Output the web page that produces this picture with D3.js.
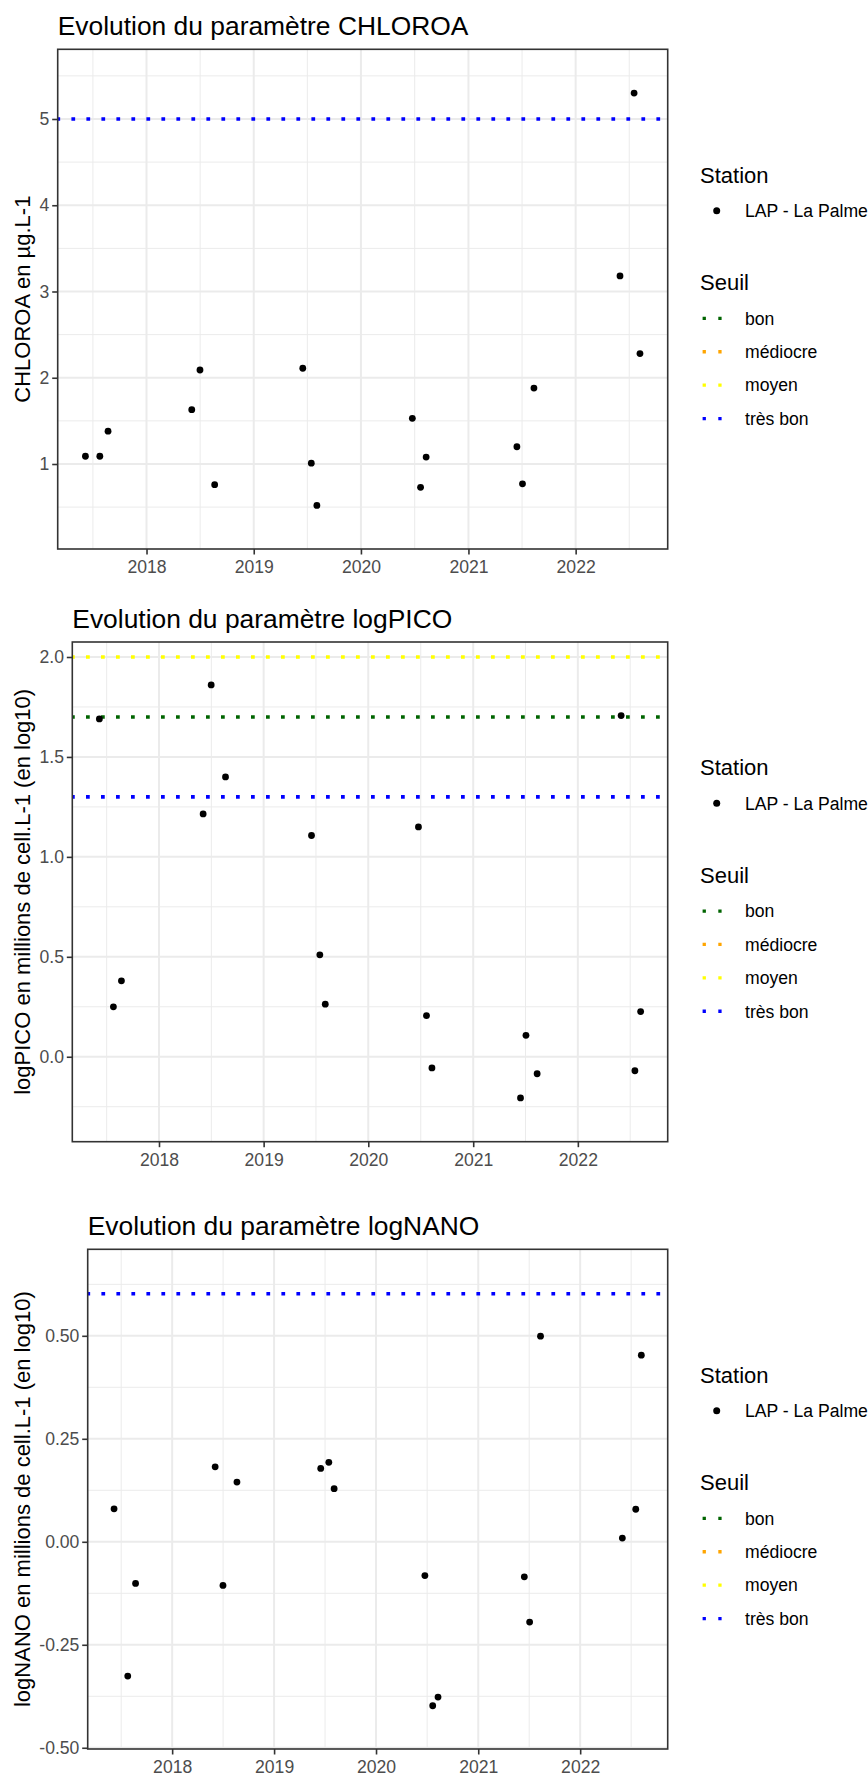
<!DOCTYPE html>
<html><head><meta charset="utf-8">
<script src="https://cdn.jsdelivr.net/npm/d3@7"></script>
<style>
body{margin:0;background:#fff;}
text{font-family:"Liberation Sans",Arial,Helvetica,sans-serif;}
</style>
</head><body>
<svg id="chart" width="868" height="1776"></svg>
<script>
// ---------- data ----------
const sampleDates = ["2017-06-07","2017-07-26","2017-08-23","2018-06-04","2018-07-02","2018-08-21",
  "2019-06-17","2019-07-16","2019-08-04","2020-06-24","2020-07-22","2020-08-10",
  "2021-06-15","2021-07-04","2021-08-12","2022-06-01","2022-07-19","2022-08-08"];
const chloroaValues = [1.09,1.09,1.38,1.63,2.09,0.76,2.11,1.01,0.52,1.53,0.73,1.08,1.20,0.77,1.88,3.18,5.30,2.28];
const logpicoValues = [1.69,0.25,0.38,1.215,1.86,1.40,1.107,0.51,0.263,1.15,0.206,-0.056,-0.206,0.107,-0.085,1.707,-0.07,0.226];
const lognanoValues = [0.08,-0.326,-0.101,0.182,-0.106,0.145,0.178,0.193,0.129,-0.082,-0.398,-0.377,-0.085,-0.195,0.499,0.009,0.079,0.453];

const stationName = "LAP - La Palme";
const seuilNames = ["bon","médiocre","moyen","très bon"];
const seuilColors = ["#006400","#FFA500","#FFFF00","#0000FF"];

const chloroaSeuilNames = ["très bon"];
const chloroaSeuilValues = [5];
const logpicoSeuilNames = ["moyen","bon","très bon"];
const logpicoSeuilValues = [2.0,1.7,1.3];
const lognanoSeuilNames = ["très bon"];
const lognanoSeuilValues = [0.602];

const xTickYears = [2018,2019,2020,2021,2022];
const chloroaTicks = [1,2,3,4,5];
const chloroaTickLabels = ["1","2","3","4","5"];
const logpicoTicks = [0,0.5,1,1.5,2];
const logpicoTickLabels = ["0.0","0.5","1.0","1.5","2.0"];
const lognanoTicks = [-0.5,-0.25,0,0.25,0.5];
const lognanoTickLabels = ["-0.50","-0.25","0.00","0.25","0.50"];

const chloroaDomain = [0.0145, 5.808];
const logpicoDomain = [-0.425, 2.075];
const lognanoDomain = [-0.503, 0.71];

// ---------- drawing ----------
const svg = d3.select("#chart");
svg.append("rect").attr("width",868).attr("height",1776).attr("fill","#fff");
const parse = d3.timeParse("%Y-%m-%d");
const dates = sampleDates.map(parse);

const panels = [
  {title:"Evolution du paramètre CHLOROA", ylab:"CHLOROA en µg.L-1", values:chloroaValues,
   sNames:chloroaSeuilNames, sValues:chloroaSeuilValues, ticks:chloroaTicks, tickLabels:chloroaTickLabels,
   domain:chloroaDomain, left:57.7, top:49.3},
  {title:"Evolution du paramètre logPICO", ylab:"logPICO en millions de cell.L-1 (en log10)", values:logpicoValues,
   sNames:logpicoSeuilNames, sValues:logpicoSeuilValues, ticks:logpicoTicks, tickLabels:logpicoTickLabels,
   domain:logpicoDomain, left:72.3, top:642},
  {title:"Evolution du paramètre logNANO", ylab:"logNANO en millions de cell.L-1 (en log10)", values:lognanoValues,
   sNames:lognanoSeuilNames, sValues:lognanoSeuilValues, ticks:lognanoTicks, tickLabels:lognanoTickLabels,
   domain:lognanoDomain, left:87.7, top:1249.3}
];
const right = 667.7, ph = 499.7;

const ext = d3.extent(dates);
const span = ext[1]-ext[0];
const xDomain = [new Date(+ext[0]-0.05*span), new Date(+ext[1]+0.05*span)];

panels.forEach(p => {
  const bottom = p.top + ph;
  const x = d3.scaleTime().domain(xDomain).range([p.left, right]);
  const y = d3.scaleLinear().domain(p.domain).range([bottom, p.top]);
  const g = svg.append("g");

  // minor grid
  const yStep = p.ticks[1]-p.ticks[0];
  const yMinor = [];
  for (let i=-1;i<p.ticks.length;i++){
    const v = p.ticks[0] + (i+0.5)*yStep;
    if (v>p.domain[0] && v<p.domain[1]) yMinor.push(v);
  }
  const years = [xTickYears[0]-1, ...xTickYears];
  const xMinor = years.map(yr => new Date(+new Date(yr,0,1) + (new Date(yr+1,0,1)-new Date(yr,0,1))/2))
    .filter(d => d>xDomain[0] && d<xDomain[1]);
  g.selectAll(".ymin").data(yMinor).enter().append("line")
    .attr("x1",p.left).attr("x2",right).attr("y1",d=>y(d)).attr("y2",d=>y(d))
    .attr("stroke","#EBEBEB").attr("stroke-width",1);
  g.selectAll(".xmin").data(xMinor).enter().append("line")
    .attr("y1",p.top).attr("y2",bottom).attr("x1",d=>x(d)).attr("x2",d=>x(d))
    .attr("stroke","#EBEBEB").attr("stroke-width",1);
  // major grid
  const xMajor = xTickYears.map(yr=>new Date(yr,0,1));
  g.selectAll(".ymaj").data(p.ticks).enter().append("line")
    .attr("x1",p.left).attr("x2",right).attr("y1",d=>y(d)).attr("y2",d=>y(d))
    .attr("stroke","#EBEBEB").attr("stroke-width",2);
  g.selectAll(".xmaj").data(xMajor).enter().append("line")
    .attr("y1",p.top).attr("y2",bottom).attr("x1",d=>x(d)).attr("x2",d=>x(d))
    .attr("stroke","#EBEBEB").attr("stroke-width",2);

  // threshold lines
  p.sValues.forEach((v,i)=>{
    const col = seuilColors[seuilNames.indexOf(p.sNames[i])];
    g.append("line").attr("x1",p.left).attr("x2",right).attr("y1",y(v)).attr("y2",y(v))
      .attr("stroke",col).attr("stroke-width",3.6)
      .attr("stroke-dasharray","3.75 11.25").attr("stroke-dashoffset",1.3);
  });

  // points
  g.selectAll(".pt").data(dates.map((d,i)=>({d, v:p.values[i]}))).enter().append("circle")
    .attr("cx",d=>x(d.d)).attr("cy",d=>y(d.v)).attr("r",3.4).attr("fill","#000");

  // border
  g.append("rect").attr("x",p.left).attr("y",p.top).attr("width",right-p.left).attr("height",ph)
    .attr("fill","none").attr("stroke","#333333").attr("stroke-width",1.6);

  // axes
  const xa = svg.append("g").attr("transform",`translate(0,${bottom})`)
    .call(d3.axisBottom(x).tickValues(xMajor).tickFormat(d3.timeFormat("%Y")).tickSize(5.5).tickPadding(6));
  const ya = svg.append("g").attr("transform",`translate(${p.left},0)`)
    .call(d3.axisLeft(y).tickValues(p.ticks).tickFormat((d,i)=>p.tickLabels[i]).tickSize(5.5).tickPadding(2.8));
  [xa,ya].forEach(a=>{
    a.select(".domain").remove();
    a.selectAll(".tick line").attr("stroke","#333333").attr("stroke-width",1.6);
    a.selectAll(".tick text").attr("fill","#4D4D4D").style("font-size","17.6px")
      .style("font-family",'"Liberation Sans",Arial,sans-serif');
  });

  // title
  svg.append("text").attr("x",p.left).attr("y",p.top-14.5).text(p.title)
    .style("font-size","26.4px").attr("fill","#000");
  // y title
  const cy = p.top + ph/2;
  svg.append("text").attr("transform",`translate(29.5,${cy}) rotate(-90)`)
    .attr("text-anchor","middle").text(p.ylab).style("font-size","22px").attr("fill","#000");

  // legend
  const lg = svg.append("g").attr("transform",`translate(0,${cy})`);
  lg.append("text").attr("x",700).attr("y",-124.5).attr("dy","0.36em").text("Station")
    .style("font-size","22px").attr("fill","#000");
  lg.append("circle").attr("cx",716.7).attr("cy",-88.5).attr("r",3.5).attr("fill","#000");
  lg.append("text").attr("x",745).attr("y",-88.5).attr("dy","0.36em").text(stationName)
    .style("font-size","17.6px").attr("fill","#000");
  lg.append("text").attr("x",700).attr("y",-17).attr("dy","0.36em").text("Seuil")
    .style("font-size","22px").attr("fill","#000");
  seuilNames.forEach((n,i)=>{
    const yy = 19.2 + i*33.4;
    lg.append("line").attr("x1",702.6).attr("x2",721.7).attr("y1",yy).attr("y2",yy)
      .attr("stroke",seuilColors[i]).attr("stroke-width",3.3).attr("stroke-dasharray","3.3 12.4");
    lg.append("text").attr("x",745).attr("y",yy).attr("dy","0.36em").text(n)
      .style("font-size","17.6px").attr("fill","#000");
  });
});
</script>
</body></html>
